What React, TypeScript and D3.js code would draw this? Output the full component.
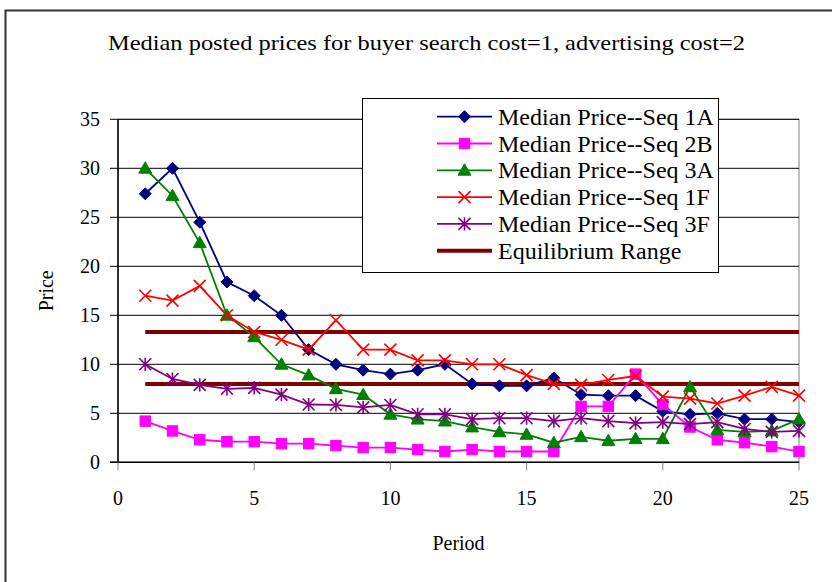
import React from "react";
import * as d3 from "d3";

const periods = d3.range(1, 26);
const seq1A = [27.4, 30, 24.5, 18.4, 17.0, 15.0, 11.5, 10.0, 9.4, 9.0, 9.4, 10.0, 8.0, 7.8, 7.8, 8.6, 6.9, 6.8, 6.8, 5.2, 4.9, 5.0, 4.4, 4.4, 4.1];
const seq2B = [4.2, 3.2, 2.3, 2.1, 2.1, 1.9, 1.9, 1.7, 1.5, 1.5, 1.3, 1.1, 1.3, 1.1, 1.1, 1.1, 5.7, 5.7, 9.0, 5.9, 3.6, 2.3, 2.0, 1.6, 1.1];
const seq3A = [30, 27.2, 22.4, 15, 12.8, 10, 8.9, 7.5, 6.9, 4.9, 4.4, 4.2, 3.6, 3.1, 2.85, 2.0, 2.6, 2.2, 2.4, 2.4, 7.7, 3.3, 3.1, 3.2, 4.4];
const seq1F = [17, 16.5, 18, 15, 13.3, 12.5, 11.5, 14.5, 11.5, 11.5, 10.4, 10.4, 10, 10, 8.9, 8, 7.9, 8.4, 8.8, 6.7, 6.5, 6.0, 6.8, 7.7, 6.8];
const seq3F = [10, 8.5, 7.9, 7.5, 7.6, 6.9, 5.9, 5.85, 5.6, 5.85, 4.9, 4.9, 4.4, 4.5, 4.5, 4.2, 4.5, 4.2, 4.0, 4.1, 3.9, 4.1, 3.4, 3.1, 3.2];
const equilibrium = [13.3, 8.0];
const xTicks = [0, 5, 10, 15, 20, 25];
const yTicks = [0, 5, 10, 15, 20, 25, 30, 35];

const seriesNames = [
  "Median Price--Seq 1A",
  "Median Price--Seq 2B",
  "Median Price--Seq 3A",
  "Median Price--Seq 1F",
  "Median Price--Seq 3F",
];
const seriesValues = [seq1A, seq2B, seq3A, seq1F, seq3F];
const seriesColors = ["#000080", "#FF00FF", "#008000", "#FF0000", "#800080"];
const seriesMarkers = ["diamond", "square", "triangle", "x", "star"];
const eqName = "Equilibrium Range";
const eqColor = "#800000";
const titleText = "Median posted prices for buyer search cost=1, advertising cost=2";

const FONT = "'Liberation Serif', 'Times New Roman', serif";

const W = 832, H = 582;
const PL = 118, PR = 799, PT = 119.3, PB = 462.3;

function Marker({ type, x, y, color }: { type: string; x: number; y: number; color: string }) {
  if (type === "diamond") {
    const r = 6;
    return <path d={`M${x},${y - r}L${x + r},${y}L${x},${y + r}L${x - r},${y}Z`} fill={color} stroke={color} strokeWidth={1} />;
  }
  if (type === "square") {
    const r = 5.2;
    return <rect x={x - r} y={y - r} width={2 * r} height={2 * r} fill={color} stroke={color} strokeWidth={1} />;
  }
  if (type === "triangle") {
    const r = 6.5;
    return <path d={`M${x},${y - r}L${x + r},${y + r * 0.75}L${x - r},${y + r * 0.75}Z`} fill={color} stroke={color} strokeWidth={1} />;
  }
  if (type === "x") {
    const r = 6;
    return <path d={`M${x - r},${y - r}L${x + r},${y + r}M${x - r},${y + r}L${x + r},${y - r}`} stroke={color} strokeWidth={1.6} fill="none" />;
  }
  const r = 6;
  return <path d={`M${x - r},${y - r}L${x + r},${y + r}M${x - r},${y + r}L${x + r},${y - r}M${x},${y - r * 1.1}L${x},${y + r * 1.1}`} stroke={color} strokeWidth={1.6} fill="none" />;
}

export default function App() {
  const x = d3.scaleLinear().domain([0, 25]).range([PL, PR]);
  const y = d3.scaleLinear().domain([0, 35]).range([PB, PT]);
  const line = d3.line<number>().x((_, i) => x(periods[i])).y((d) => y(d));

  const legX = 362, legY = 98, legW = 356, legH = 174;
  const rowH = 26.8;
  const row0 = 116.7;
  const legendItems = [...seriesNames, eqName];

  return (
    <svg width={W} height={H} style={{ position: "absolute", left: 0, top: 0, background: "#fff" }}>
      <rect x={0} y={0} width={W} height={H} fill="#fff" />
      {/* outer frame */}
      <rect x={5.5} y={10.5} width={W + 20} height={H + 20} fill="none" stroke="#333" strokeWidth={2} />
      {/* title */}
      <text x={108} y={50} fontFamily={FONT} fontSize={22} fill="#000" textLength={637} lengthAdjust="spacingAndGlyphs">{titleText}</text>

      {/* plot border */}
      <rect x={PL} y={PT} width={PR - PL} height={PB - PT} fill="none" stroke="#808080" strokeWidth={1} />
      {/* gridlines */}
      {yTicks.filter((t) => t > 0).map((t) => (
        <line key={"g" + t} x1={PL} x2={PR} y1={y(t)} y2={y(t)} stroke="#000" strokeWidth={1} />
      ))}
      {/* axes */}
      <line x1={PL} x2={PL} y1={PT} y2={PB} stroke="#000" strokeWidth={1.5} />
      <line x1={PL - 8} x2={PR} y1={PB} y2={PB} stroke="#000" strokeWidth={1.5} />
      {yTicks.map((t) => (
        <g key={"yt" + t}>
          <line x1={PL - 8} x2={PL} y1={y(t)} y2={y(t)} stroke="#000" strokeWidth={1} />
          <text x={100} y={y(t)} dy="0.35em" textAnchor="end" fontFamily={FONT} fontSize={20}>{t}</text>
        </g>
      ))}
      {xTicks.map((t) => (
        <g key={"xt" + t}>
          <line x1={x(t)} x2={x(t)} y1={PB} y2={PB + 8} stroke="#808080" strokeWidth={1} />
          <text x={x(t)} y={505} textAnchor="middle" fontFamily={FONT} fontSize={20}>{t}</text>
        </g>
      ))}
      <text x={(PL + PR) / 2} y={550} textAnchor="middle" fontFamily={FONT} fontSize={20}>Period</text>
      <text transform={`translate(53,${(PT + PB) / 2}) rotate(-90)`} textAnchor="middle" fontFamily={FONT} fontSize={20}>Price</text>

      {/* equilibrium lines */}
      {equilibrium.map((v, i) => (
        <line key={"eq" + i} x1={x(1)} x2={x(25)} y1={y(v)} y2={y(v)} stroke={eqColor} strokeWidth={4} />
      ))}

      {/* series */}
      {seriesValues.map((vals, si) => (
        <g key={"s" + si}>
          <path d={line(vals) || ""} fill="none" stroke={seriesColors[si]} strokeWidth={1.8} />
          {vals.map((v, i) => (
            <Marker key={i} type={seriesMarkers[si]} x={x(periods[i])} y={y(v)} color={seriesColors[si]} />
          ))}
        </g>
      ))}

      {/* legend */}
      <rect x={legX + 0.5} y={legY + 0.5} width={legW} height={legH} fill="#fff" stroke="#000" strokeWidth={1} />
      {legendItems.map((name, i) => {
        const cy = row0 + i * rowH;
        const isEq = i === seriesNames.length;
        const color = isEq ? eqColor : seriesColors[i];
        return (
          <g key={"l" + i}>
            <line x1={437} x2={492} y1={cy} y2={cy} stroke={color} strokeWidth={isEq ? 4 : 1.8} />
            {!isEq && <Marker type={seriesMarkers[i]} x={464.5} y={cy} color={color} />}
            <text x={498} y={cy} dy="0.34em" fontFamily={FONT} fontSize={24}>{name}</text>
          </g>
        );
      })}
    </svg>
  );
}
